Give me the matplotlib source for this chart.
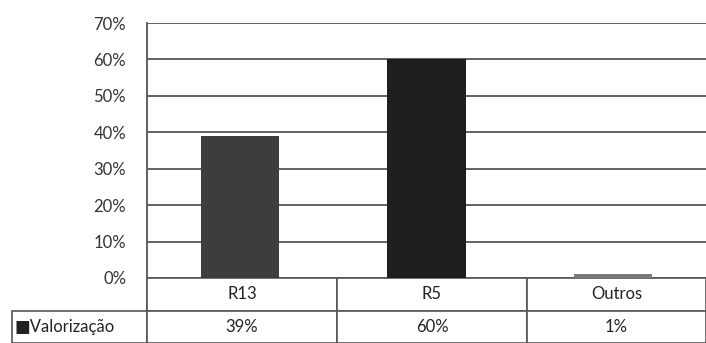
import matplotlib.pyplot as plt
import numpy as np

plt.rcParams['font.family'] = ['Lato', 'DejaVu Sans']

categories = ['R13', 'R5', 'Outros']
valorizacao = [0.39, 0.60, 0.01]
series_name = 'Valorização'
bar_colors = ['#3d3d3d', '#1e1e1e', '#7a7a7a']
yticks = [0, 0.1, 0.2, 0.3, 0.4, 0.5, 0.6, 0.7]

fig = plt.figure(figsize=(7.06, 3.43), dpi=100)
ax = fig.add_axes([147 / 706, 65 / 343, 559 / 706, 255 / 343])

x = np.arange(len(categories))
ax.bar(x, valorizacao, width=0.42, color=bar_colors, zorder=3)

ax.set_xlim(-0.5, len(categories) - 0.5)
ax.set_ylim(0, 0.7)
ax.set_yticks(yticks)
ax.set_yticklabels(['%d%%' % round(v * 100) for v in yticks], fontsize=12, color='#333333')
ax.tick_params(axis='y', length=0, pad=15)
ax.set_xticks([])
ax.yaxis.grid(True, color='#555555', linewidth=1.3, zorder=0)
for side in ['top', 'right', 'bottom']:
    ax.spines[side].set_visible(False)
ax.spines['left'].set_color('#555555')
ax.spines['left'].set_linewidth(1.3)

# data table under the bars, first column holds the series label
label_w = 135 / 559
widths = [135, 190, 190, 179]
widths = [w / sum(widths) for w in widths]
row = ['■' + series_name] + ['%d%%' % round(v * 100) for v in valorizacao]
tbl = ax.table(cellText=[row],
               colLabels=[''] + categories,
               cellLoc='center',
               colWidths=widths,
               bbox=[-label_w, -65 / 255, 1 + label_w, 65 / 255])
tbl.auto_set_font_size(False)
for (r, c), cell in tbl.get_celld().items():
    cell.set_edgecolor('#555555')
    cell.set_linewidth(1.2)
    cell.get_text().set_fontsize(12)
    cell.get_text().set_color('#222222')
tbl[0, 0].visible_edges = 'R'
tbl[1, 0].get_text().set_horizontalalignment('left')
tbl[1, 0].PAD = 0.02

fig.savefig('out.png', dpi=100)
